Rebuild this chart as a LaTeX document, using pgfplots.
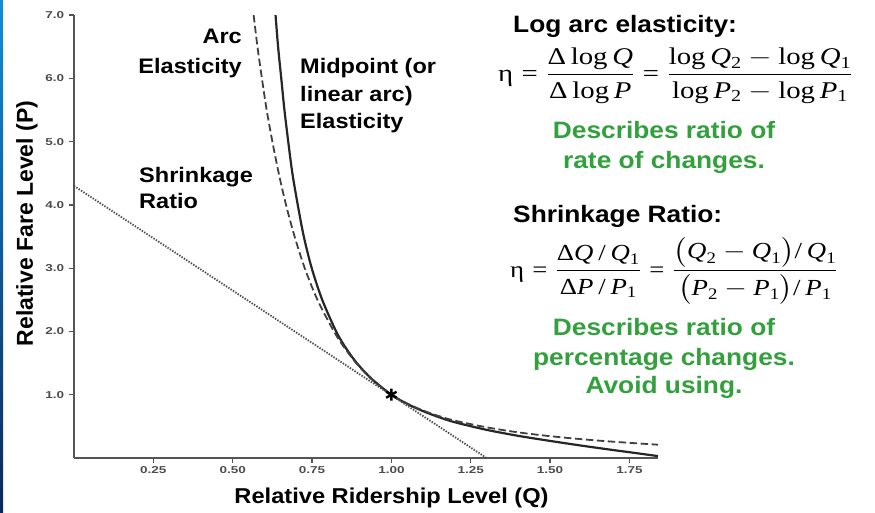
\documentclass[border=0pt]{standalone}
\usepackage{fontspec}
\setmainfont{Liberation Sans}
\newfontfamily\tnr{Liberation Serif}
\usepackage{amsmath}
\usepackage{graphicx}
\usepackage{pgfplots}
\pgfplotsset{compat=1.18}

\definecolor{note}{RGB}{50,160,60}
\definecolor{axgray}{RGB}{85,85,85}

\newcommand{\tr}[1]{\text{\tnr #1}}
\newcommand{\ti}[1]{\text{\tnr\itshape #1}}
\newcommand{\lblfont}{\bfseries\fontsize{21}{25}\selectfont}
\newcommand{\headfont}{\bfseries\fontsize{23.7}{28}\selectfont}
\newcommand{\eqfont}{\fontsize{24}{29}\selectfont}

% arc (log) elasticity curve
\pgfplotstableread{
Q     P
0.566 7.00
0.578 6.50
0.592 6.00
0.607 5.50
0.625 5.00
0.645 4.50
0.668 4.00
0.695 3.50
0.727 3.00
0.767 2.50
0.819 2.00
0.851 1.75
0.889 1.50
0.937 1.25
1.000 1.00
1.050 0.86
1.100 0.75
1.150 0.662
1.200 0.59
1.300 0.485
1.400 0.405
1.500 0.345
1.600 0.297
1.700 0.257
1.840 0.21
}\arcdata

% midpoint (linear arc) elasticity curve
\pgfplotstableread{
Q     P
0.635 7.00
0.643 6.50
0.653 6.00
0.663 5.50
0.675 5.00
0.688 4.50
0.705 4.00
0.724 3.50
0.749 3.00
0.782 2.50
0.826 2.00
0.855 1.75
0.891 1.50
0.938 1.25
1.000 1.00
1.050 0.855
1.100 0.74
1.150 0.645
1.200 0.565
1.300 0.445
1.400 0.35
1.500 0.27
1.600 0.195
1.700 0.125
1.760 0.085
1.840 0.03
}\middata

\begin{document}
\begin{tikzpicture}
\path[use as bounding box] (0,0) rectangle (875pt,-512pt);
\shade[top color={rgb,255:red,20;green,140;blue,215}, bottom color={rgb,255:red,10;green,40;blue,95}]
  (0,0) rectangle (3pt,-512pt);

\begin{axis}[
  at={(74pt,-458pt)}, anchor=south west,
  scale only axis, width=584pt, height=443pt,
  xmin=0, xmax=1.84, ymin=0, ymax=7,
  axis x line=bottom, axis y line=left,
  axis line style={-, axgray, line width=1.6pt},
  xtick={0.25,0.5,0.75,1,1.25,1.5,1.75},
  ytick={1,2,3,4,5,6,7},
  tick align=outside, major tick length=5pt,
  tick style={axgray, line width=1.3pt},
  /pgf/number format/assume math mode=true,
  xticklabel={\pgfmathprintnumber[fixed,fixed zerofill,precision=2]{\tick}},
  yticklabel={\pgfmathprintnumber[fixed,fixed zerofill,precision=1]{\tick}},
  ticklabel style={font=\bfseries\fontsize{10}{12}\selectfont, text=black!70, xscale=1.35},
  xlabel={Relative Ridership Level (Q)},
  xlabel style={at={(axis description cs:0.5437,-0.1038)}, anchor=base,
    font=\bfseries\fontsize{21.5}{26}\selectfont, xscale=1.1},
  ylabel={Relative Fare Level (P)},
  ylabel style={at={(axis description cs:-0.0805,0.5293)}, anchor=center,
    font=\bfseries\fontsize{23}{28}\selectfont},
]
\addplot[black!85, line width=2.2pt, smooth] table[x=Q, y=P] {\middata};
\addplot[black!75, line width=1.8pt, smooth, dash pattern=on 7.5pt off 3.5pt] table[x=Q, y=P] {\arcdata};
\addplot[black!70, line width=1.8pt, dash pattern=on 1.4pt off 1.4pt] coordinates {(0,4.3) (1.3,0)};
\addplot[only marks, mark=asterisk, mark size=6pt, line width=2.4pt] coordinates {(1,1)};
\end{axis}

% curve labels
\begin{scope}[every node/.style={font=\lblfont, xscale=1.12, inner sep=0pt}]
\node[anchor=base east] at (242pt,-43pt) {Arc};
\node[anchor=base east] at (242pt,-73pt) {Elasticity};
\node[anchor=base west] at (300pt,-73pt) {Midpoint (or};
\node[anchor=base west] at (300pt,-101pt) {linear arc)};
\node[anchor=base west] at (300pt,-128pt) {Elasticity};
\node[anchor=base west] at (139pt,-182pt) {Shrinkage};
\node[anchor=base west] at (139pt,-208pt) {Ratio};
\end{scope}

% formulas and notes
\begin{scope}[every node/.style={inner sep=0pt, xscale=1.11}]
\node[anchor=base west, font=\headfont] at (513pt,-32pt) {Log arc elasticity:};
\node[anchor=base west, font=\headfont] at (513pt,-222pt) {Shrinkage Ratio:};
\node[anchor=base, font=\headfont, text=note] at (664pt,-138pt) {Describes ratio of};
\node[anchor=base, font=\headfont, text=note] at (664pt,-168pt) {rate of changes.};
\node[anchor=base, font=\headfont, text=note] at (664pt,-335pt) {Describes ratio of};
\node[anchor=base, font=\headfont, text=note] at (664pt,-365pt) {percentage changes.};
\node[anchor=base, font=\headfont, text=note] at (664pt,-393pt) {Avoid using.};
\node[anchor=base west, font=\eqfont, xscale=1.08] at (498pt,-81pt)
  {$\displaystyle \tr{η} \mathrel{\tr{=}} \frac{\tr{Δ\,log\,}\ti{Q}}{\tr{Δ\,log\,}\ti{P}}
   \mathrel{\tr{=}} \frac{\tr{log\,}\ti{Q}_{\tr{2}} - \tr{log\,}\ti{Q}_{\tr{1}}}{\tr{log\,}\ti{P}_{\tr{2}} - \tr{log\,}\ti{P}_{\tr{1}}}$};
\node[anchor=base west, font=\fontsize{23}{28}\selectfont, xscale=1.05] at (510pt,-277pt)
  {$\displaystyle \tr{η} \mathrel{\tr{=}} \frac{\tr{Δ}\ti{Q}\,\tr{/}\,\ti{Q}_{\tr{1}}}{\tr{Δ}\ti{P}\,\tr{/}\,\ti{P}_{\tr{1}}}
   \mathrel{\tr{=}} \frac{\smash[t]{\bigl(\ti{Q}_{\tr{2}} - \ti{Q}_{\tr{1}}\bigr)}\tr{/}\,\ti{Q}_{\tr{1}}}{\bigl(\ti{P}_{\tr{2}} - \ti{P}_{\tr{1}}\bigr)\tr{/}\,\ti{P}_{\tr{1}}}$};
\end{scope}
\end{tikzpicture}
\end{document}
